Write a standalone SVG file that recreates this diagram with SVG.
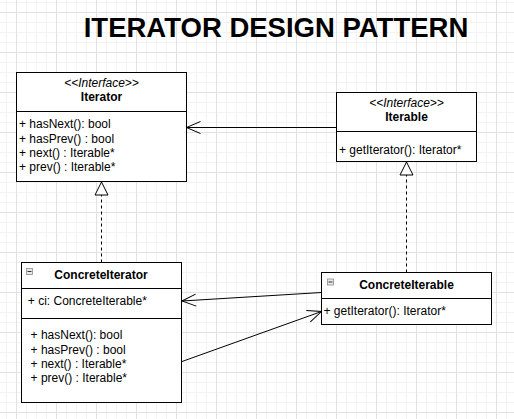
<svg xmlns="http://www.w3.org/2000/svg" width="514" height="419" viewBox="0 0 514 419">
  <defs>
    <pattern id="gminor" patternUnits="userSpaceOnUse" x="6" y="2" width="10" height="10">
      <path d="M0.5 0 V10 M0 0.5 H10" stroke="#f3f3f3" stroke-width="1" fill="none"/>
    </pattern>
    <pattern id="gmajor" patternUnits="userSpaceOnUse" x="16" y="12" width="40" height="40">
      <path d="M0.5 0 V40 M0 0.5 H40" stroke="#e2e2e2" stroke-width="1" fill="none"/>
    </pattern>
    <marker id="open" markerUnits="userSpaceOnUse" markerWidth="20" markerHeight="20" viewBox="-16 -10 20 20" refX="0" refY="0" orient="auto" overflow="visible">
      <path d="M-14,-6 L0,0 L-14,6" fill="none" stroke="#000" stroke-width="1" stroke-dasharray="none"/>
    </marker>
    <marker id="tri" markerUnits="userSpaceOnUse" markerWidth="20" markerHeight="20" viewBox="-16 -10 20 20" refX="0" refY="0" orient="auto" overflow="visible">
      <path d="M-13,-6.5 L0,0 L-13,6.5 Z" fill="#fff" stroke="#000" stroke-width="1" stroke-dasharray="none"/>
    </marker>
    <style>
      text { font-family: "Liberation Sans", Arial, Helvetica, sans-serif; font-size: 12px; fill: #000; }
      .title { font-size: 27.5px; font-weight: bold; text-anchor: middle; }
      .stereo { font-style: italic; text-anchor: middle; }
      .name { font-weight: bold; text-anchor: middle; }
      .box { fill: #fff; stroke: #000; stroke-width: 1; }
      .div { stroke: #000; stroke-width: 1; fill: none; }
      .icon { fill: #e8e8e8; stroke: #8a8a8a; stroke-width: 0.8; }
      .minus { stroke: #333; stroke-width: 1; }
      .conn { fill: none; stroke: #000; stroke-width: 1; }
      .dash { stroke-dasharray: 3 3; }
    </style>
  </defs>

  <rect width="514" height="419" fill="#fff"/>
  <rect width="514" height="419" fill="url(#gminor)"/>
  <rect width="514" height="419" fill="url(#gmajor)"/>

  <text class="title" x="276" y="36.7">ITERATOR DESIGN PATTERN</text>

  <g id="connectors">
    <path class="conn" d="M336.5 127.5 L186.5 127.5" marker-end="url(#open)"/>
    <path class="conn dash" d="M101.5 262.5 L101.5 182" marker-end="url(#tri)"/>
    <path class="conn dash" d="M406.5 272.5 L406.5 162" marker-end="url(#tri)"/>
    <path class="conn" d="M321.5 292.5 L182 301" marker-end="url(#open)"/>
    <path class="conn" d="M182 361.5 L321.5 311.5" marker-end="url(#open)"/>
  </g>

  <g id="Iterator">
    <rect class="box" x="16.5" y="72.5" width="170" height="109"/>
    <line class="div" x1="16.5" y1="111.5" x2="186.5" y2="111.5"/>
    <text class="stereo" x="101.5" y="86.7">&lt;&lt;Interface&gt;&gt;</text>
    <text class="name" x="101.5" y="100.7">Iterator</text>
    <text x="19" y="128.3">+ hasNext(): bool</text>
    <text x="19" y="142.5">+ hasPrev() : bool</text>
    <text x="19" y="156.7">+ next() : Iterable*</text>
    <text x="19" y="170.9">+ prev() : Iterable*</text>
  </g>

  <g id="Iterable">
    <rect class="box" x="336.5" y="92.5" width="140" height="69"/>
    <line class="div" x1="336.5" y1="131.5" x2="476.5" y2="131.5"/>
    <text class="stereo" x="406.5" y="106.7">&lt;&lt;Interface&gt;&gt;</text>
    <text class="name" x="406.5" y="120.5">Iterable</text>
    <text x="339" y="154">+ getIterator(): Iterator*</text>
  </g>

  <g id="ConcreteIterator">
    <rect class="box" x="21.5" y="262.5" width="160" height="140"/>
    <line class="div" x1="21.5" y1="288.5" x2="181.5" y2="288.5"/>
    <line class="div" x1="21.5" y1="318.5" x2="181.5" y2="318.5"/>
    <rect class="icon" x="26.5" y="268.5" width="6" height="6"/>
    <line class="minus" x1="27.5" y1="271.5" x2="31.5" y2="271.5"/>
    <text class="name" x="101" y="279">ConcreteIterator</text>
    <text x="27.8" y="305">+ ci: ConcreteIterable*</text>
    <text x="30.6" y="339.3">+ hasNext(): bool</text>
    <text x="30.6" y="353.5">+ hasPrev() : bool</text>
    <text x="30.6" y="367.7">+ next() : Iterable*</text>
    <text x="30.6" y="381.9">+ prev() : Iterable*</text>
  </g>

  <g id="ConcreteIterable">
    <rect class="box" x="321.5" y="272.5" width="170" height="52"/>
    <line class="div" x1="321.5" y1="298.5" x2="491.5" y2="298.5"/>
    <rect class="icon" x="327.5" y="279" width="6" height="6"/>
    <line class="minus" x1="328.5" y1="282" x2="332.5" y2="282"/>
    <text class="name" x="406.5" y="289">ConcreteIterable</text>
    <text x="323.5" y="315">+ getIterator(): Iterator*</text>
  </g>
</svg>
